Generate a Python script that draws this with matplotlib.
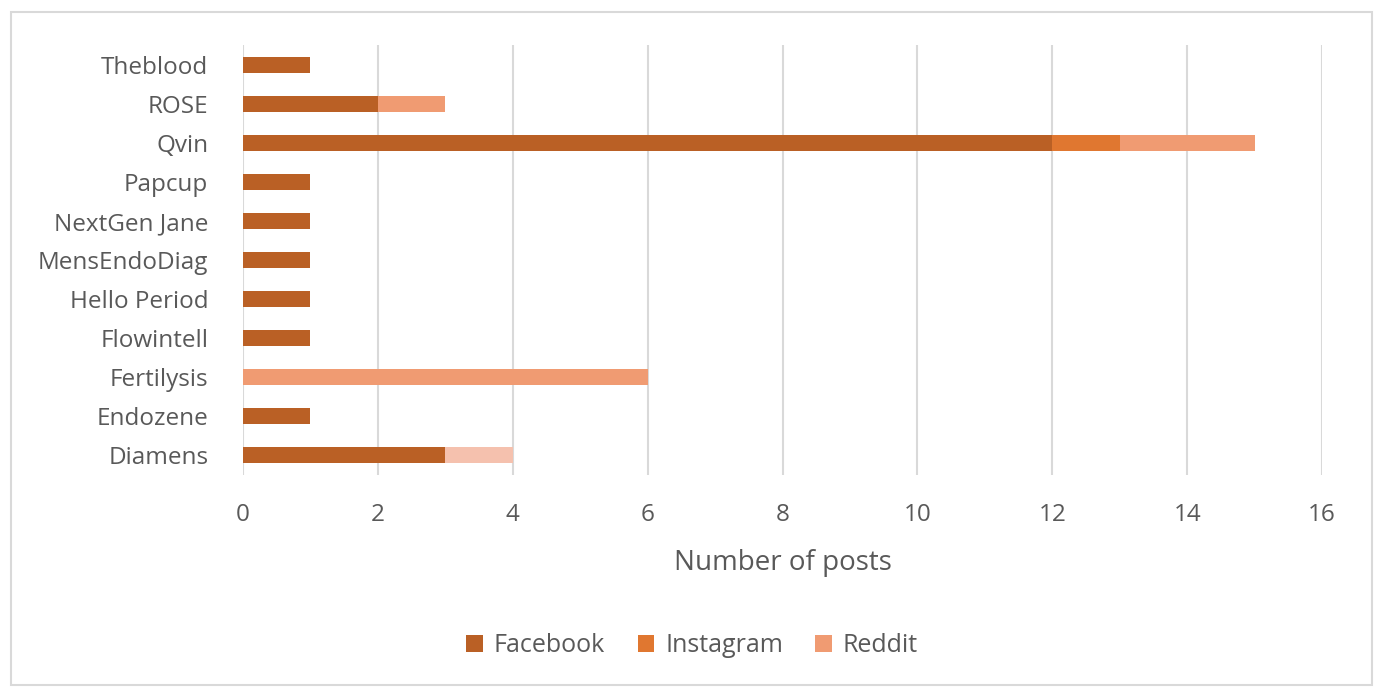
import matplotlib.pyplot as plt
import numpy as np

companies = ['Theblood', 'ROSE', 'Qvin', 'Papcup', 'NextGen Jane', 'MensEndoDiag',
             'Hello Period', 'Flowintell', 'Fertilysis', 'Endozene', 'Diamens']
facebook = [1, 2, 12, 1, 1, 1, 1, 1, 0, 1, 3]
instagram = [0, 0, 1, 0, 0, 0, 0, 0, 0, 0, 0]
reddit = [0, 1, 2, 0, 0, 0, 0, 0, 6, 0, 0]
other = [0, 0, 0, 0, 0, 0, 0, 0, 0, 0, 1]

colors = ['#BA6025', '#E07730', '#F09B72', '#F5C1AE']
txt = '#595959'

plt.rcParams['font.family'] = ['Open Sans', 'DejaVu Sans']

fig = plt.figure(figsize=(13.76, 6.89), dpi=100)
ax = fig.add_axes([0.1766, 0.3106, 0.7842, 0.6241])

y = np.arange(len(companies))
left = np.zeros(len(companies))
series = [('Facebook', facebook), ('Instagram', instagram), ('Reddit', reddit), ('_nolegend_', other)]
for (name, vals), c in zip(series, colors):
    vals = np.array(vals, dtype=float)
    ax.barh(y, vals, left=left, height=0.41, color=c, label=name, zorder=3)
    left += vals

ax.set_ylim(len(companies) - 0.5, -0.5)
ax.set_xlim(0, 16)
ax.set_xticks(range(0, 17, 2))
ax.set_yticks(y)
ax.set_yticklabels(companies)
ax.tick_params(length=0, labelsize=17.5, colors=txt)
ax.tick_params(axis='x', pad=20)
ax.tick_params(axis='y', pad=25)
for s in ax.spines.values():
    s.set_visible(False)
ax.grid(axis='x', color='#D9D9D9', linewidth=1.5, zorder=0)
ax.set_xlabel('Number of posts', fontsize=20, color=txt, labelpad=16)

leg = fig.legend(loc='center', bbox_to_anchor=(0.503, 0.063), ncol=3, frameon=False,
                 fontsize=18, labelcolor=txt, handlelength=0.65, handleheight=0.65,
                 columnspacing=1.3, handletextpad=0.45)

border = plt.Rectangle((0.008, 0.006), 0.989, 0.976, transform=fig.transFigure,
                       fill=False, edgecolor='#D9D9D9', linewidth=1.5)
fig.patches.append(border)

fig.savefig('out.png', dpi=100)
